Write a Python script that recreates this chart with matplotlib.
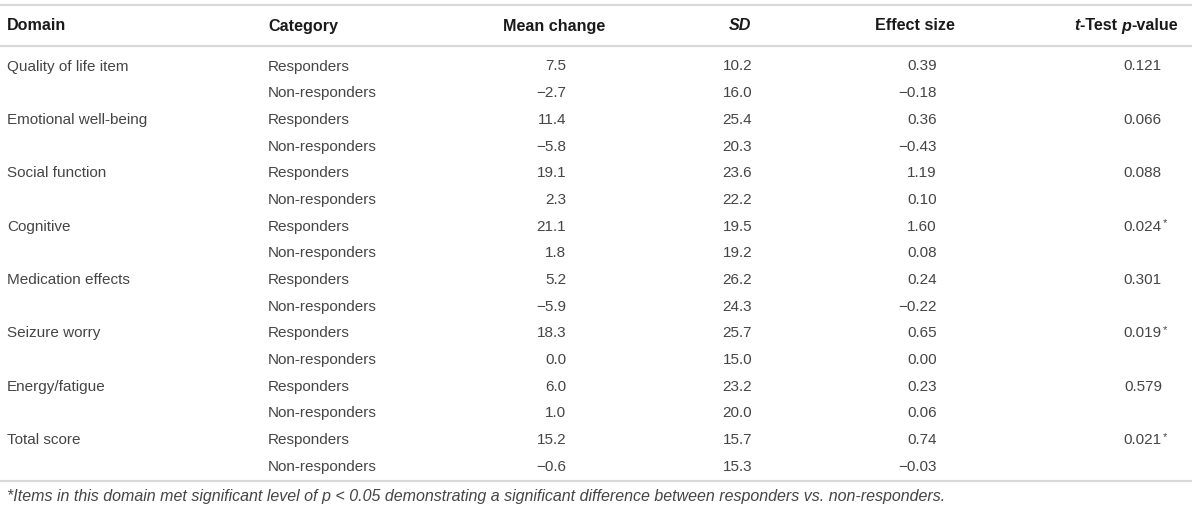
import matplotlib.pyplot as plt

domains = ["Quality of life item", "Emotional well-being", "Social function", "Cognitive",
           "Medication effects", "Seizure worry", "Energy/fatigue", "Total score"]
categories = ["Responders", "Non-responders"]

mean_change = [7.5, -2.7, 11.4, -5.8, 19.1, 2.3, 21.1, 1.8,
               5.2, -5.9, 18.3, 0.0, 6.0, 1.0, 15.2, -0.6]
sd = [10.2, 16.0, 25.4, 20.3, 23.6, 22.2, 19.5, 19.2,
      26.2, 24.3, 25.7, 15.0, 23.2, 20.0, 15.7, 15.3]
effect_size = [0.39, -0.18, 0.36, -0.43, 1.19, 0.10, 1.60, 0.08,
               0.24, -0.22, 0.65, 0.00, 0.23, 0.06, 0.74, -0.03]
p_values = [0.121, 0.066, 0.088, 0.024, 0.301, 0.019, 0.579, 0.021]
significant = [False, False, False, True, False, True, False, True]

footnote = ("*Items in this domain met significant level of p < 0.05 demonstrating "
            "a significant difference between responders vs. non-responders.")

FONT = "Liberation Sans"
BODY = 11
HEADSZ = 11.6
NOTESZ = 11.5
TXT = "#454545"
HEAD = "#1a1a1a"
RULE = "#d8d8d8"

W, H = 1200, 517
fig = plt.figure(figsize=(12, 5.17), dpi=100)
ax = fig.add_axes([0, 0, 1, 1])
ax.set_xlim(0, W)
ax.set_ylim(H, 0)
ax.axis("off")

# rules
for y in (5, 46, 481):
    ax.plot([0, 1192], [y, y], color=RULE, lw=1.6, solid_capstyle="butt")

renderer = fig.canvas.get_renderer()


def right_segments(x, y, segs):
    # draw styled pieces right-aligned at x
    for s, style in reversed(segs):
        t = ax.text(x, y, s, ha="right", va="center", fontsize=HEADSZ, family=FONT,
                    fontweight="bold", fontstyle=style, color=HEAD)
        bb = t.get_window_extent(renderer)
        x -= bb.width


head_y = 26
ax.text(7, head_y, "Domain", ha="left", va="center", fontsize=HEADSZ, family=FONT,
        fontweight="bold", color=HEAD)
ax.text(268, head_y, "Category", ha="left", va="center", fontsize=HEADSZ, family=FONT,
        fontweight="bold", color=HEAD)
right_segments(605, head_y, [("Mean change", "normal")])
right_segments(751, head_y, [("SD", "italic")])
right_segments(955, head_y, [("Effect size", "normal")])
right_segments(1178, head_y, [("t", "italic"), ("-Test ", "normal"),
                              ("p", "italic"), ("-value", "normal")])


def fmt(v, nd):
    s = f"{v:.{nd}f}"
    return s.replace("-", "\u2212")


row0, step = 66.5, 26.67
for i in range(len(mean_change)):
    y = row0 + i * step
    kw = dict(va="center", fontsize=BODY, family=FONT, color=TXT)
    if i % 2 == 0:
        ax.text(7, y, domains[i // 2], ha="left", **kw)
        ax.text(1162, y, fmt(p_values[i // 2], 3), ha="right", **kw)
        if significant[i // 2]:
            ax.text(1163, y - 3, "*", ha="left", va="center", fontsize=8,
                    family=FONT, color=TXT)
    ax.text(268, y, categories[i % 2], ha="left", **kw)
    ax.text(566, y, fmt(mean_change[i], 1), ha="right", **kw)
    ax.text(752, y, fmt(sd[i], 1), ha="right", **kw)
    ax.text(937, y, fmt(effect_size[i], 2), ha="right", **kw)

ax.text(7, 497, footnote, ha="left", va="center", fontsize=NOTESZ, family=FONT,
        fontstyle="italic", color=TXT)

fig.savefig("out.png", dpi=100)
